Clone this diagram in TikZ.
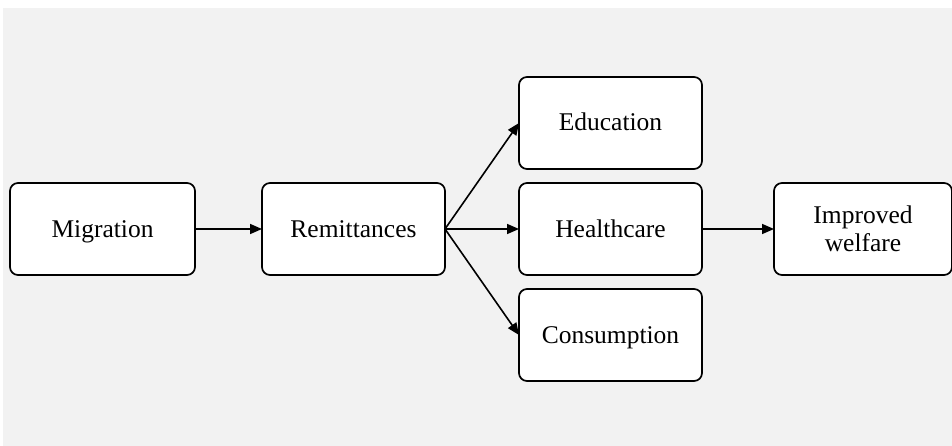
\documentclass[tikz,border=0pt]{standalone}
\usepackage{fontspec}
\setmainfont{Liberation Serif}
\usetikzlibrary{arrows.meta,positioning}

\begin{document}
\begin{tikzpicture}[
  x=1pt, y=-1pt,
  box/.style={draw, line width=1.7pt, rounded corners=8pt, fill=white,
    outer sep=0pt, minimum width=183pt, minimum height=92pt, align=center,
    font=\fontsize{25.5}{27.5}\selectfont},
  onerow/.style={box, text height=17pt, text depth=1pt},
  node distance=14pt and 72pt,
  >={Triangle[length=12pt,width=10pt]}
]
\useasboundingbox (0,0) rectangle (952,446);
\fill[black!5] (3,8) rectangle (952,446);

\node[onerow, minimum width=185pt] (mig) at (102.5,229) {Migration};
\node[onerow, right=67pt of mig] (rem) {Remittances};
\node[onerow, right=74pt of rem] (health) {Healthcare};
\node[onerow, above=of health] (edu) {Education};
\node[onerow, below=of health] (cons) {Consumption};
\node[box, right=of health, minimum width=178pt] (welf) {Improved\\welfare};

\draw[->, line width=1.6pt] (mig) -- (rem);
\draw[->, line width=1.6pt] (rem.east) -- (edu.west);
\draw[->, line width=1.6pt] (rem.east) -- (health.west);
\draw[->, line width=1.6pt] (rem.east) -- (cons.west);
\draw[->, line width=1.6pt] (health) -- (welf);
\end{tikzpicture}
\end{document}
